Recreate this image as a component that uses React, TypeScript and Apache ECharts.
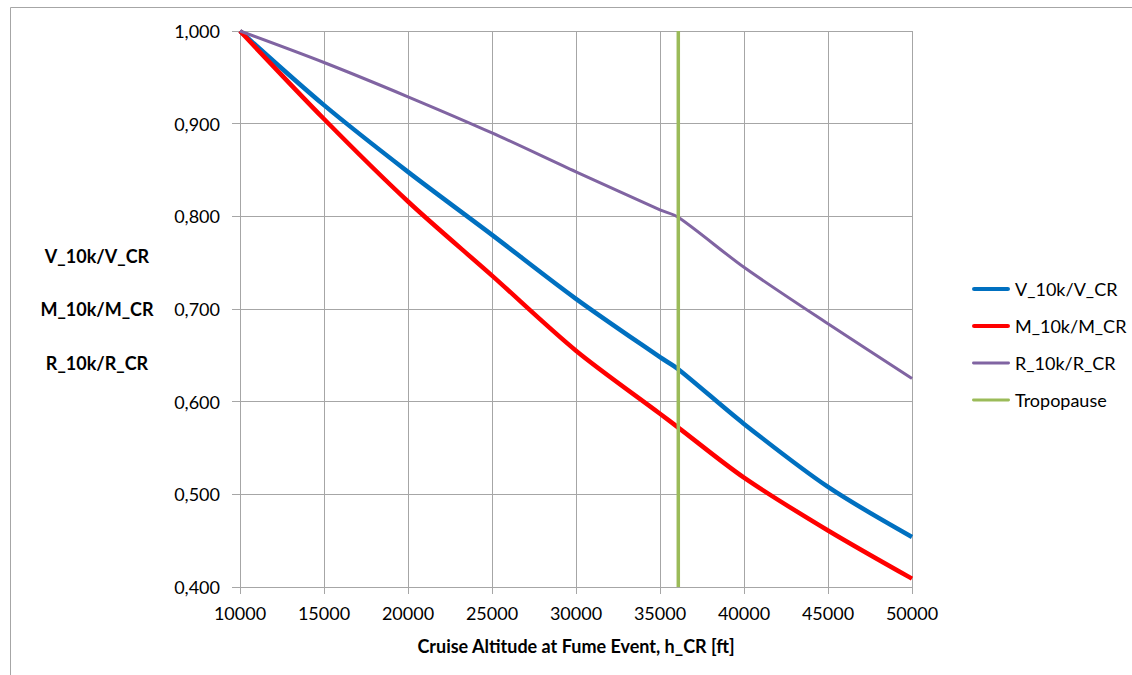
import React, { useEffect, useRef } from "react";
import * as echarts from "echarts";

const altitudes = [10000, 15000, 20000, 25000, 30000, 35000, 36089, 40000, 45000, 50000];
const vRatio = [1.0, 0.92, 0.848, 0.78, 0.711, 0.648, 0.635, 0.576, 0.508, 0.454];
const mRatio = [1.0, 0.905, 0.816, 0.736, 0.655, 0.587, 0.572, 0.518, 0.461, 0.409];
const rRatio = [1.0, 0.966, 0.929, 0.89, 0.848, 0.807, 0.799, 0.745, 0.684, 0.625];
const tropopauseAlt = 36089;
const tropopauseY = [0.4, 1.0];
const seriesNames = ["V_10k/V_CR", "M_10k/M_CR", "R_10k/R_CR", "Tropopause"];
const yTitleLines = ["V_10k/V_CR", "M_10k/M_CR", "R_10k/R_CR"];
const xTitle = "Cruise Altitude at Fume Event, h_CR [ft]";

const FONT = "Lato, 'Liberation Sans', sans-serif";

export default function App() {
  const ref = useRef<HTMLDivElement>(null);
  useEffect(() => {
    if (!ref.current) return;
    const chart = echarts.init(ref.current, undefined, { renderer: "svg" });
    const pairs = (ys: number[]) => altitudes.map((x, i) => [x, ys[i]]);
    const grid = "#A6A6A6";
    const thick = "path://M2,0h36a2,2 0 0 1 0,4.5h-36a2,2 0 0 1 0,-4.5z";
    const thin = "path://M1.5,0h37a1.5,1.5 0 0 1 0,3h-37a1.5,1.5 0 0 1 0,-3z";
    const curve = {
      type: "line",
      symbol: "none",
      smooth: 0.3,
      z: 3,
    };
    chart.setOption({
      animation: false,
      backgroundColor: "#fff",
      textStyle: { fontFamily: FONT },
      grid: { left: 240, right: 220, top: 31, bottom: 88 },
      xAxis: {
        type: "value",
        min: 10000,
        max: 50000,
        interval: 5000,
        axisLine: { show: true, lineStyle: { color: grid, width: 1 } },
        axisTick: { show: true, length: 7, lineStyle: { color: grid } },
        splitLine: { show: true, lineStyle: { color: grid, width: 1 } },
        axisLabel: {
          color: "#000",
          fontSize: 18,
          fontFamily: FONT,
          margin: 17,
          formatter: (v: number) => String(v),
        },
        name: xTitle,
        nameLocation: "middle",
        nameGap: 50,
        nameTextStyle: { color: "#000", fontSize: 18, fontWeight: "bold", fontFamily: FONT },
      },
      yAxis: {
        type: "value",
        min: 0.4,
        max: 1.0,
        interval: 0.1,
        axisLine: { show: true, lineStyle: { color: grid, width: 1 } },
        axisTick: { show: true, length: 8, lineStyle: { color: grid } },
        splitLine: { show: true, lineStyle: { color: grid, width: 1 } },
        axisLabel: {
          color: "#000",
          fontSize: 18,
          fontFamily: FONT,
          margin: 20,
          formatter: (v: number) => v.toFixed(3).replace(".", ","),
        },
      },
      legend: {
        orient: "vertical",
        left: 967,
        top: 275,
        itemWidth: 38,
        itemHeight: 14,
        itemGap: 19,
        textStyle: { color: "#000", fontSize: 18, fontFamily: FONT },
        data: [
          { name: seriesNames[0], icon: thick },
          { name: seriesNames[1], icon: thick },
          { name: seriesNames[2], icon: thin },
          { name: seriesNames[3], icon: thin },
        ],
      },
      graphic: [
        {
          type: "rect",
          shape: { x: 10.5, y: 7.5, width: 1300, height: 800 },
          style: { fill: "none", stroke: "#A6A6A6", lineWidth: 1 },
          silent: true,
          z: -1,
        },
        ...yTitleLines.map((t, i) => ({
          type: "text",
          x: 97,
          y: [256, 309, 363][i],
          style: {
            text: t,
            fontSize: 18,
            fontWeight: "bold",
            fontFamily: FONT,
            fill: "#000",
            textAlign: "center",
            textVerticalAlign: "middle",
          },
        })),
      ],
      series: [
        {
          ...curve,
          name: seriesNames[0],
          data: pairs(vRatio),
          lineStyle: { color: "#0070C0", width: 4.5 },
          itemStyle: { color: "#0070C0" },
        },
        {
          ...curve,
          name: seriesNames[1],
          data: pairs(mRatio),
          lineStyle: { color: "#FF0000", width: 4.5 },
          itemStyle: { color: "#FF0000" },
        },
        {
          ...curve,
          name: seriesNames[2],
          data: pairs(rRatio),
          lineStyle: { color: "#8064A2", width: 3 },
          itemStyle: { color: "#8064A2" },
        },
        {
          name: seriesNames[3],
          type: "line",
          data: tropopauseY.map((y) => [tropopauseAlt, y]),
          symbol: "none",
          lineStyle: { color: "#9BBB59", width: 3.5 },
          itemStyle: { color: "#9BBB59" },
          z: 4,
        },
      ],
    });
    return () => chart.dispose();
  }, []);
  return (
    <div
      ref={ref}
      style={{ position: "absolute", left: 0, top: 0, width: 1132, height: 675 }}
    />
  );
}
